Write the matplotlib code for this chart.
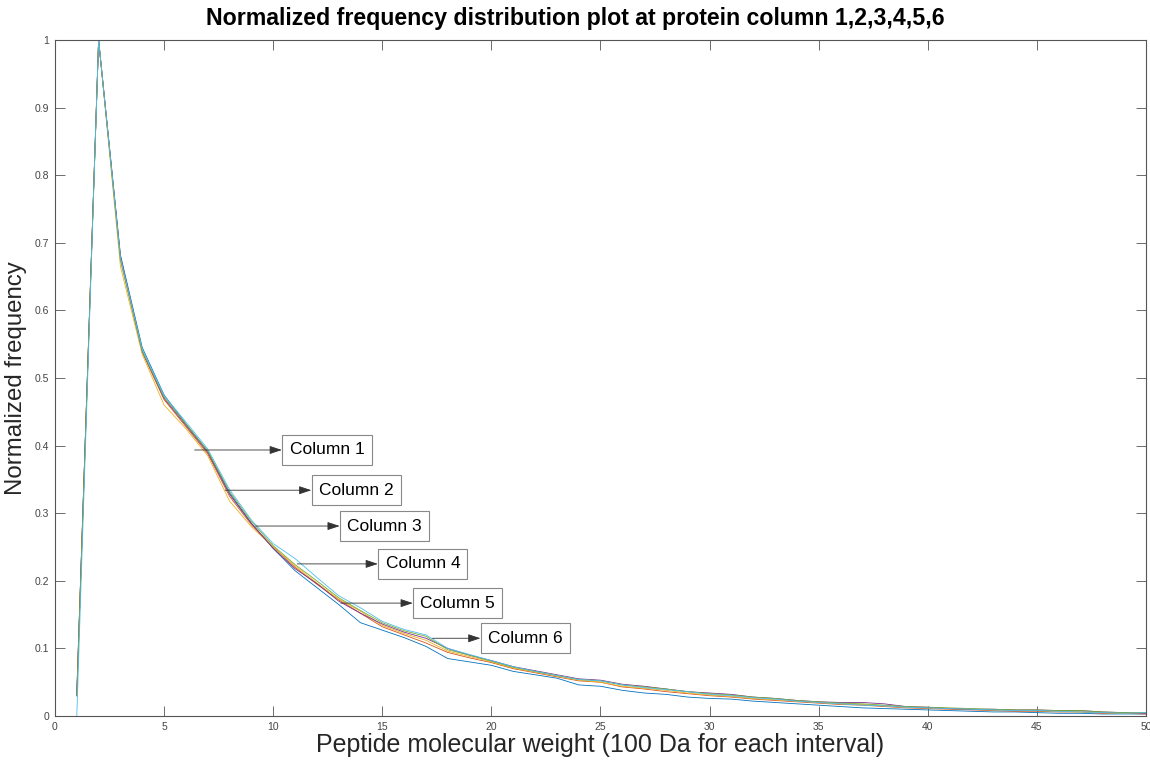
import matplotlib
matplotlib.use("Agg")
import matplotlib.pyplot as plt

plt.rcParams['font.family'] = ['Liberation Sans', 'DejaVu Sans']

x = list(range(1, 51))

col1 = [0.035, 1.0, 0.682, 0.545, 0.475, 0.432, 0.392, 0.33, 0.285, 0.248, 0.215, 0.19, 0.165, 0.138, 0.127,
        0.116, 0.103, 0.085, 0.08, 0.075, 0.066, 0.061, 0.056, 0.046, 0.044, 0.038, 0.034, 0.032, 0.028, 0.026,
        0.025, 0.022, 0.02, 0.018, 0.016, 0.014, 0.012, 0.011, 0.01, 0.009, 0.008, 0.007, 0.006, 0.006, 0.005,
        0.004, 0.004, 0.003, 0.003, 0.003]
col2 = [0.03, 1.0, 0.675, 0.538, 0.468, 0.428, 0.388, 0.325, 0.283, 0.25, 0.22, 0.195, 0.172, 0.152, 0.132,
        0.12, 0.108, 0.094, 0.086, 0.079, 0.07, 0.064, 0.058, 0.052, 0.05, 0.043, 0.04, 0.036, 0.033, 0.03,
        0.028, 0.025, 0.023, 0.021, 0.019, 0.017, 0.016, 0.014, 0.012, 0.011, 0.01, 0.009, 0.008, 0.007, 0.007,
        0.006, 0.006, 0.004, 0.004, 0.003]
col3 = [0.03, 1.0, 0.665, 0.535, 0.46, 0.425, 0.385, 0.318, 0.28, 0.25, 0.222, 0.197, 0.173, 0.155, 0.134,
        0.122, 0.112, 0.096, 0.088, 0.08, 0.071, 0.065, 0.059, 0.053, 0.05, 0.044, 0.041, 0.038, 0.034, 0.031,
        0.029, 0.026, 0.024, 0.022, 0.02, 0.018, 0.017, 0.015, 0.013, 0.012, 0.011, 0.01, 0.009, 0.008, 0.008,
        0.007, 0.006, 0.005, 0.004, 0.004]
col4 = [0.03, 1.0, 0.68, 0.54, 0.47, 0.43, 0.39, 0.328, 0.285, 0.248, 0.218, 0.196, 0.17, 0.152, 0.136,
        0.124, 0.115, 0.1, 0.09, 0.082, 0.073, 0.067, 0.061, 0.055, 0.053, 0.047, 0.044, 0.04, 0.036, 0.034,
        0.032, 0.028, 0.026, 0.023, 0.021, 0.02, 0.02, 0.018, 0.014, 0.013, 0.011, 0.01, 0.01, 0.009, 0.009,
        0.008, 0.008, 0.006, 0.005, 0.004]
col5 = [0.03, 1.0, 0.675, 0.54, 0.472, 0.432, 0.392, 0.332, 0.288, 0.252, 0.224, 0.2, 0.175, 0.156, 0.138,
        0.126, 0.118, 0.098, 0.09, 0.081, 0.072, 0.066, 0.06, 0.054, 0.052, 0.046, 0.043, 0.04, 0.036, 0.033,
        0.031, 0.028, 0.026, 0.023, 0.021, 0.019, 0.018, 0.016, 0.014, 0.013, 0.012, 0.011, 0.01, 0.009, 0.009,
        0.008, 0.008, 0.006, 0.005, 0.005]
col6 = [0.0, 1.0, 0.678, 0.542, 0.474, 0.435, 0.395, 0.335, 0.29, 0.255, 0.233, 0.205, 0.178, 0.16, 0.14,
        0.128, 0.12, 0.1, 0.091, 0.082, 0.073, 0.066, 0.06, 0.054, 0.052, 0.046, 0.042, 0.039, 0.036, 0.032,
        0.03, 0.027, 0.025, 0.022, 0.02, 0.018, 0.016, 0.015, 0.013, 0.012, 0.011, 0.01, 0.009, 0.008, 0.008,
        0.007, 0.006, 0.005, 0.004, 0.005]

series = [col1, col2, col3, col4, col5, col6]
labels = ['Column 1', 'Column 2', 'Column 3', 'Column 4', 'Column 5', 'Column 6']
colors = ['#0072BD', '#D95319', '#EDB120', '#7E2F8E', '#77AC30', '#4DBEEE']

# annotation layout (arrow start on curve, text anchor)
arrow_start = [(6.4, 0.3935), (7.8, 0.334), (9.2, 0.281), (11.1, 0.225), (13.1, 0.167), (17.3, 0.115)]
text_pos = [(10.75, 0.3935), (12.1, 0.334), (13.4, 0.281), (15.15, 0.225), (16.75, 0.167), (19.85, 0.115)]

fig = plt.figure(figsize=(11.5, 7.63), dpi=100)
ax = fig.add_axes([0.0478, 0.0616, 0.9487, 0.886])

for s, c in zip(series, colors):
    ax.plot(x, s, color=c, lw=0.6)

ax.set_xlim(0, 50)
ax.set_ylim(0, 1)
ax.set_xticks(range(0, 51, 5))
ax.set_yticks([i / 10 for i in range(11)])
ax.set_yticklabels(['0', '0.1', '0.2', '0.3', '0.4', '0.5', '0.6', '0.7', '0.8', '0.9', '1'])

axcol = '#555555'
for sp in ax.spines.values():
    sp.set_color(axcol)
    sp.set_linewidth(0.8)
ax.tick_params(direction='in', length=7, width=0.6, colors=axcol, labelsize=7.5,
               top=True, right=True, labelcolor='#444444', pad=4)

for lab, st, tp in zip(labels, arrow_start, text_pos):
    ax.annotate(lab, xy=st, xytext=tp, ha='left', va='center', fontsize=12.5, color='black',
                bbox=dict(boxstyle='square,pad=0.42', fc='white', ec='#888888', lw=0.8),
                arrowprops=dict(arrowstyle='<|-,head_length=0.6,head_width=0.2', color='#333333',
                                lw=0.6, shrinkA=0, shrinkB=0))

fig.text(0.5, 1 - 18.5 / 763, 'Normalized frequency distribution plot at protein column 1,2,3,4,5,6',
         fontsize=16.7, fontweight='bold', ha='center', va='center')
ax.set_xlabel('Peptide molecular weight (100 Da for each interval)', fontsize=18, color='#262626', labelpad=1)
ax.set_ylabel('Normalized frequency', fontsize=17.3, color='#262626', labelpad=6)

fig.savefig('out.png', dpi=100)
